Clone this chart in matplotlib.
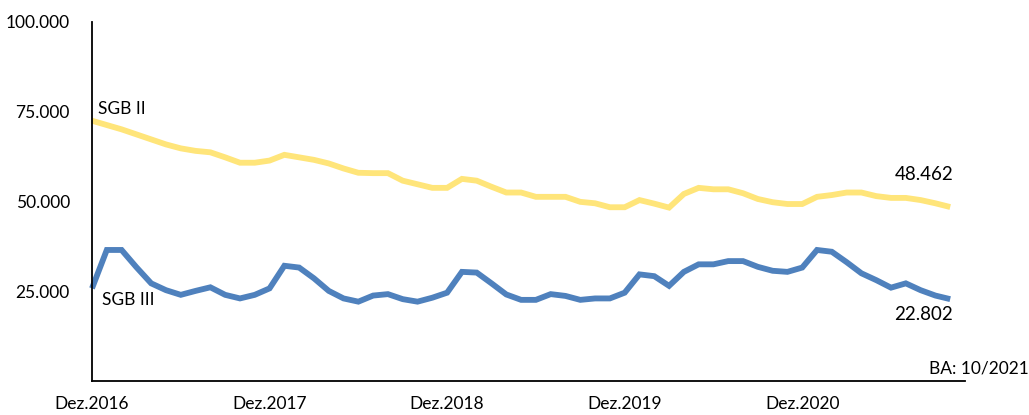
import matplotlib
matplotlib.use("Agg")
import matplotlib.pyplot as plt
import numpy as np

plt.rcParams['font.family'] = ['Lato', 'DejaVu Sans']

# Monthly values, Dez.2016 .. Okt.2021 (in thousands)
sgb2 = [72.5, 71.3, 70.1, 68.7, 67.3, 65.9, 64.8, 64.1, 63.7, 62.3,
        60.8, 60.8, 61.4, 63.0, 62.3, 61.6, 60.6, 59.2, 58.0, 57.9,
        57.9, 55.8, 54.8, 53.8, 53.8, 56.3, 55.8, 54.1, 52.5, 52.5,
        51.3, 51.3, 51.3, 49.9, 49.5, 48.4, 48.4, 50.4, 49.4, 48.3,
        52.1, 53.8, 53.4, 53.4, 52.3, 50.7, 49.8, 49.3, 49.3, 51.3,
        51.8, 52.5, 52.5, 51.5, 51.0, 51.0, 50.4, 49.5, 48.462]
sgb3 = [25.8, 36.5, 36.5, 31.7, 27.2, 25.3, 24.0, 25.1, 26.1, 24.0,
        23.0, 24.0, 25.8, 32.1, 31.6, 28.6, 25.1, 23.0, 22.1, 23.8,
        24.2, 22.8, 22.1, 23.2, 24.6, 30.4, 30.2, 27.2, 24.1, 22.6,
        22.6, 24.2, 23.7, 22.6, 23.0, 23.0, 24.6, 29.7, 29.2, 26.5,
        30.4, 32.5, 32.5, 33.4, 33.4, 31.8, 30.7, 30.4, 31.6, 36.5,
        36.0, 33.1, 30.0, 28.1, 26.0, 27.2, 25.3, 23.8, 22.802]
sgb2 = [v * 1000 for v in sgb2]
sgb3 = [v * 1000 for v in sgb3]

x_ticklabels = ['Dez.2016', 'Dez.2017', 'Dez.2018', 'Dez.2019', 'Dez.2020']
y_ticks = [25000, 50000, 75000, 100000]
y_ticklabels = ['25.000', '50.000', '75.000', '100.000']

fig = plt.figure(figsize=(10.29, 4.15), dpi=100)
ax = fig.add_axes([92/1029, 1 - 381/415, (965-92)/1029, (381-22)/415])

x = np.arange(len(sgb2))
ax.plot(x, sgb2, color='#FFE57A', lw=4.2, solid_joinstyle='miter', solid_capstyle='butt', clip_on=False)
ax.plot(x, sgb3, color='#4F81BD', lw=4.2, solid_joinstyle='miter', solid_capstyle='butt', clip_on=False)

ax.set_xlim(0, 59)
ax.set_ylim(0, 100000)
ax.set_xticks([0, 12, 24, 36, 48])
ax.set_xticklabels(x_ticklabels, fontsize=12.5)
ax.set_yticks(y_ticks)
ax.set_yticklabels(y_ticklabels, fontsize=12.5)
ax.tick_params(axis='both', length=0)
ax.tick_params(axis='x', pad=11)
ax.tick_params(axis='y', pad=16)
for s in ['top', 'right']:
    ax.spines[s].set_visible(False)
for s in ['left', 'bottom']:
    ax.spines[s].set_linewidth(1.3)
    ax.spines[s].set_color('black')

ax.text(0.4, 75800, 'SGB II', fontsize=12.5, ha='left', va='center')
ax.text(0.7, 22700, 'SGB III', fontsize=12.5, ha='left', va='center')
ax.text(58.2, 57400, '48.462', fontsize=13.5, ha='right', va='center')
ax.text(58.2, 18600, '22.802', fontsize=13.5, ha='right', va='center')
ax.text(63.3, 3600, 'BA: 10/2021', fontsize=12.5, ha='right', va='center', clip_on=False)

fig.savefig('out.png', dpi=100)
